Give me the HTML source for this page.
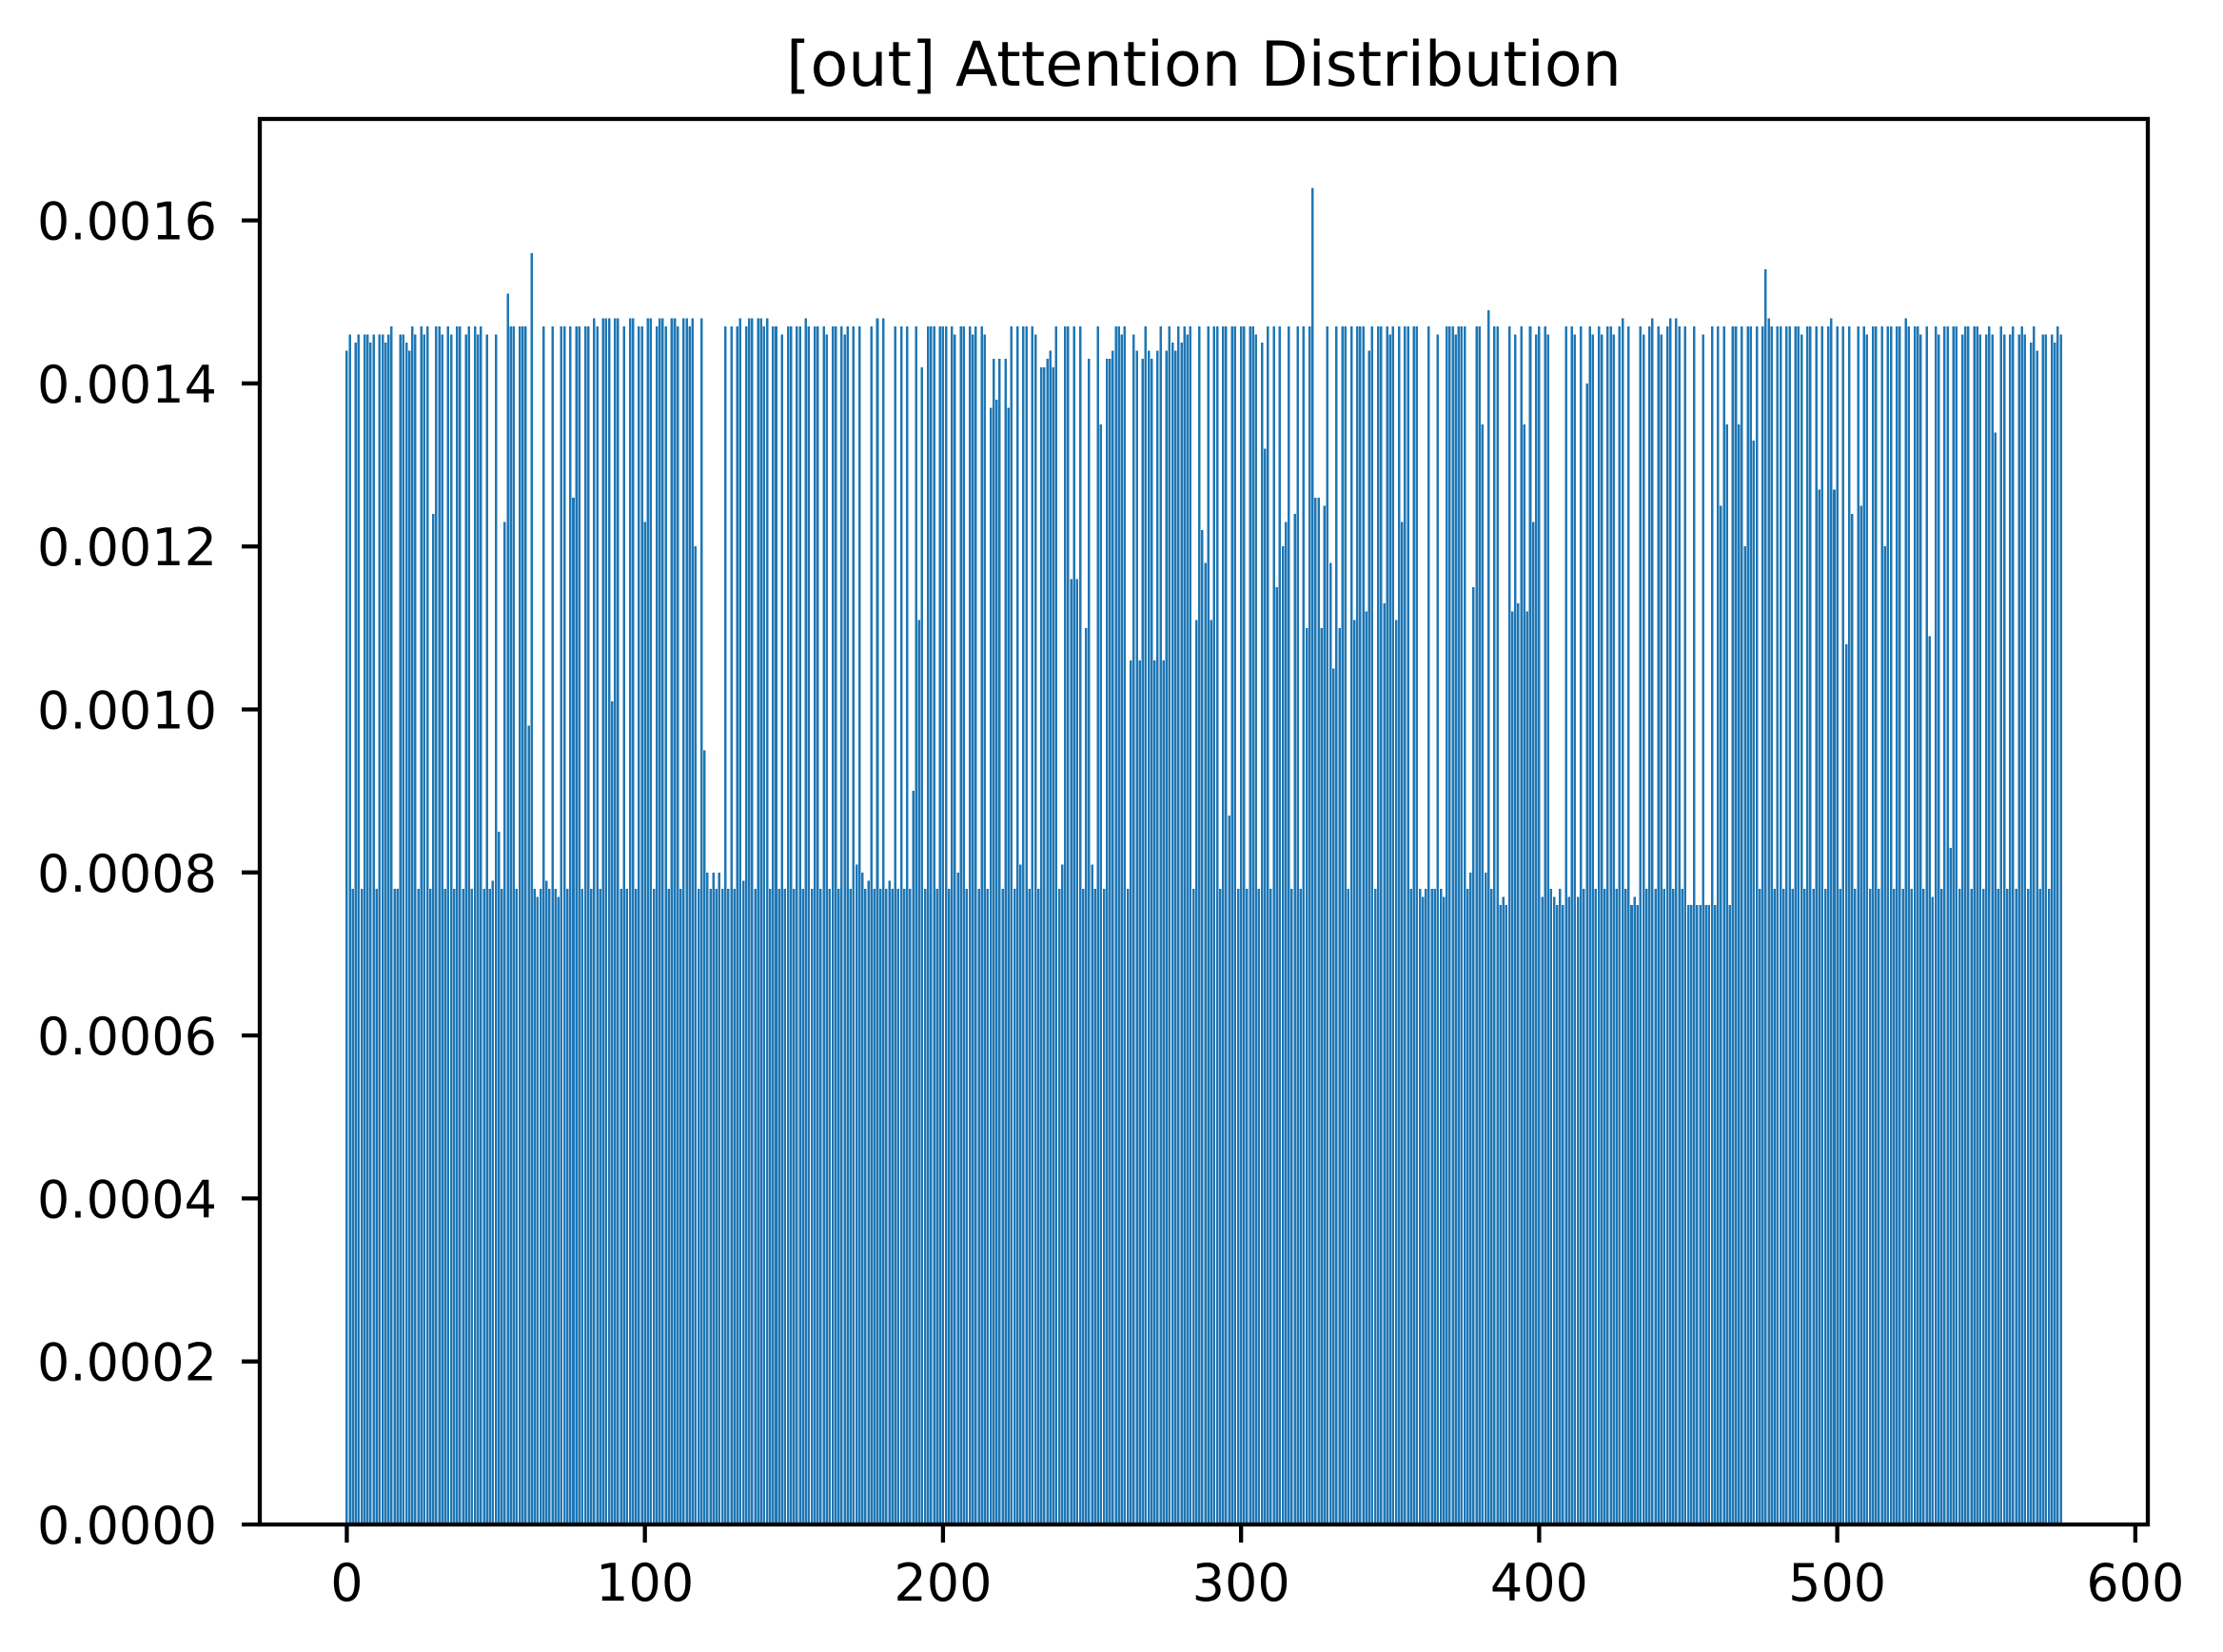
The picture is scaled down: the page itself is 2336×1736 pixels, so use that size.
<!DOCTYPE html>
<html><head><meta charset="utf-8"><style>
html,body{margin:0;padding:0;background:#fff;}
svg{display:block;font-family:"DejaVu Sans","Liberation Sans",sans-serif;}
</style></head><body>
<svg id="chart" width="2336" height="1736" viewBox="0 0 2336 1736" xmlns="http://www.w3.org/2000/svg">
<rect width="2336" height="1736" fill="#fff"/>
<text x="1265" y="90" font-size="65" text-anchor="middle">[out] Attention Distribution</text>
<g id="bars" shape-rendering="crispEdges"></g>
<g id="axes"></g>
</svg>
<script>
// attention values in units of 1e-5
const values = [
144,146,78,145,146,78,146,146,145,146,
78,146,146,145,146,147,78,78,146,146,
145,144,147,146,78,147,146,147,78,124,
147,147,146,78,147,146,78,147,147,78,
146,147,78,147,146,147,78,146,78,79,
146,85,78,123,151,147,147,78,147,147,
147,98,156,78,77,78,147,79,78,147,
78,77,147,147,78,147,126,147,147,78,
147,147,78,148,147,78,148,148,148,101,
148,148,78,147,78,148,148,78,147,147,
123,148,148,78,147,148,148,147,78,148,
148,147,78,148,148,147,148,120,78,148,
95,80,78,80,78,80,78,147,78,147,
78,147,148,79,147,148,148,78,148,148,
147,148,78,147,147,78,146,78,147,147,
78,147,147,78,148,147,78,147,147,78,
147,146,78,147,147,78,147,146,147,78,
147,81,147,80,78,79,147,78,148,78,
148,78,79,78,147,78,147,78,147,78,
90,147,111,142,78,147,147,147,78,147,
147,147,78,147,146,80,147,147,78,147,
146,147,78,147,146,78,137,143,138,143,
78,143,137,147,78,147,81,147,147,78,
147,146,78,142,142,143,144,142,147,78,
81,147,147,116,147,116,147,78,110,143,
81,78,147,135,78,143,143,144,147,147,
146,147,78,106,146,144,106,143,147,144,
143,106,144,147,106,144,147,145,144,147,
145,147,146,147,78,111,147,122,118,147,
111,147,147,78,147,147,87,147,147,78,
147,147,78,147,147,146,78,145,132,147,
78,147,115,147,120,123,147,78,124,147,
78,147,110,147,164,126,126,110,125,147,
118,105,147,110,147,147,78,147,111,147,
147,147,112,144,147,78,147,147,113,147,
146,147,111,147,123,147,147,78,147,147,
78,77,78,147,78,78,146,78,77,147,
147,147,146,147,147,147,78,80,115,147,
147,135,80,149,78,147,147,76,77,76,
147,112,146,113,147,135,112,147,123,146,
147,77,147,146,78,77,76,78,76,147,
77,147,146,77,147,78,140,147,146,78,
147,146,78,147,147,146,78,147,148,78,
147,76,77,76,147,146,78,147,148,78,
147,146,78,147,148,78,148,147,78,147,
76,76,147,76,76,146,76,76,147,76,
147,125,147,135,76,147,147,135,147,120,
147,147,133,147,78,147,154,148,147,78,
147,147,78,147,147,78,147,147,146,78,
147,147,78,147,127,147,78,147,148,127,
147,78,147,108,147,124,78,147,125,147,
146,78,147,147,78,147,120,147,147,78,
147,147,78,148,147,78,147,147,146,78,
147,109,77,147,146,78,147,147,83,147,
147,78,146,147,147,78,147,147,146,78,
146,147,146,134,78,147,146,78,146,147,
78,146,147,146,78,145,147,144,78,146,
146,78,146,145,147,146
];
const xTicks = [0,100,200,300,400,500,600];
const yTicks = [0,0.0002,0.0004,0.0006,0.0008,0.0010,0.0012,0.0014,0.0016];
const yTickLabels = ["0.0000","0.0002","0.0004","0.0006","0.0008","0.0010","0.0012","0.0014","0.0016"];

const L=273,R=2257,T=125,B=1602;
const n=values.length;
const xmin=-0.4-(n-0.2)*0.05, xmax=(n-1)+0.4+(n-0.2)*0.05;
const ymax=0.0017245;
function xs(v){return L+(v-xmin)/(xmax-xmin)*(R-L);}
function ys(v){return B-v/ymax*(B-T);}
const NS="http://www.w3.org/2000/svg";
const gb=document.getElementById('bars');
values.forEach((v,i)=>{
  const r=document.createElementNS(NS,'rect');
  const x0=xs(i-0.4), x1=xs(i+0.4), y=ys(v*1e-5);
  r.setAttribute('x',x0);r.setAttribute('width',x1-x0);
  r.setAttribute('y',y);r.setAttribute('height',B-y);
  r.setAttribute('fill','#1f77b4');
  
  
  gb.appendChild(r);
});
const ga=document.getElementById('axes');
const fr=document.createElementNS(NS,'rect');
fr.setAttribute('x',L);fr.setAttribute('y',T);fr.setAttribute('width',R-L);fr.setAttribute('height',B-T);
fr.setAttribute('fill','none');fr.setAttribute('stroke','#000');fr.setAttribute('stroke-width','4.3');


ga.appendChild(fr);
xTicks.forEach(t=>{
  const x=xs(t);
  const l=document.createElementNS(NS,'line');
  l.setAttribute('x1',x);l.setAttribute('x2',x);l.setAttribute('y1',B);l.setAttribute('y2',B+19);
  l.setAttribute('stroke','#000');l.setAttribute('stroke-width','4.3');
  
  
  ga.appendChild(l);
  const tx=document.createElementNS(NS,'text');
  tx.setAttribute('x',x);tx.setAttribute('y',B+80);tx.setAttribute('font-size','54');tx.setAttribute('text-anchor','middle');
  tx.textContent=t;
  
  
  ga.appendChild(tx);
});
yTicks.forEach((t,i)=>{
  const y=ys(t);
  const l=document.createElementNS(NS,'line');
  l.setAttribute('x1',L-19);l.setAttribute('x2',L);l.setAttribute('y1',y);l.setAttribute('y2',y);
  l.setAttribute('stroke','#000');l.setAttribute('stroke-width','4.3');
  
  
  ga.appendChild(l);
  const tx=document.createElementNS(NS,'text');
  tx.setAttribute('x',L-45);tx.setAttribute('y',y+20);tx.setAttribute('font-size','54');tx.setAttribute('text-anchor','end');
  tx.textContent=yTickLabels[i];
  
  
  ga.appendChild(tx);
});
</script>
</body></html>
